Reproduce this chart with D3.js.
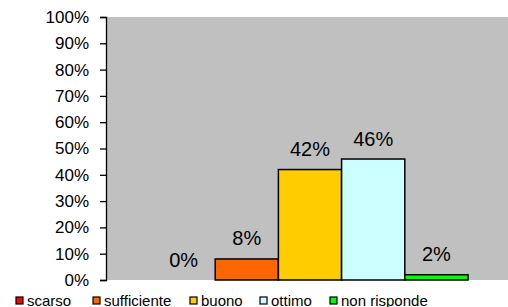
<!DOCTYPE html>
<html>
<head>
<meta charset="utf-8">
<script src="https://cdn.jsdelivr.net/npm/d3@7"></script>
<style>
  body { margin: 0; background: #fff; }
  svg { display: block; font-family: "Liberation Sans", Arial, sans-serif; }
</style>
</head>
<body>
<svg id="chart" width="508" height="307"></svg>
<script>
var series = ["scarso", "sufficiente", "buono", "ottimo", "non risponde"];
var values = [0, 8, 42, 46, 2];
var colors = ["#FF0000", "#FF6600", "#FFCC00", "#CCFFFF", "#00FF00"];
var yTicks = [0, 10, 20, 30, 40, 50, 60, 70, 80, 90, 100];

var svg = d3.select("#chart");
var margin = { top: 17, right: 0, bottom: 27, left: 106 };
var width = 508 - margin.left - margin.right;
var height = 307 - margin.top - margin.bottom;

var g = svg.append("g")
    .attr("transform", "translate(" + margin.left + "," + margin.top + ")");

// plot area
g.append("rect")
    .attr("width", width)
    .attr("height", height)
    .attr("fill", "#C0C0C0");

var y = d3.scaleLinear().domain([0, 100]).range([height, 0]);

// one category, five series side by side
var x = d3.scaleBand()
    .domain(series)
    .range([46, 362])
    .padding(0);

g.selectAll(".bar")
    .data(values)
    .enter().append("rect")
    .attr("class", "bar")
    .attr("x", function(d, i) { return x(series[i]); })
    .attr("y", function(d) { return y(d); })
    .attr("width", x.bandwidth())
    .attr("height", function(d) { return height - y(d); })
    .attr("fill", function(d, i) { return colors[i]; })
    .attr("stroke", function(d) { return d > 0 ? "#000" : "none"; })
    .attr("stroke-width", 1.5);

g.selectAll(".lbl")
    .data(values)
    .enter().append("text")
    .attr("class", "lbl")
    .attr("x", function(d, i) { return x(series[i]) + x.bandwidth() / 2; })
    .attr("y", function(d) { return y(d) - 13.5; })
    .attr("text-anchor", "middle")
    .style("font-size", "20px")
    .style("fill", "#000")
    .text(function(d) { return d + "%"; });

var yAxis = g.append("g")
    .call(d3.axisLeft(y)
        .tickValues(yTicks)
        .tickSize(6)
        .tickPadding(11)
        .tickFormat(function(d) { return d + "%"; }));
yAxis.select(".domain").attr("stroke", "#000").attr("stroke-width", 1.3);
yAxis.selectAll(".tick line").attr("stroke", "#000").attr("stroke-width", 1.3);
yAxis.selectAll(".tick text")
    .style("font-size", "17px")
    .style("font-family", "'Liberation Sans', Arial, sans-serif")
    .attr("fill", "#000");

// legend
var legendX = [16, 93, 190, 260, 330];
var leg = svg.append("g");
var item = leg.selectAll("g")
    .data(series)
    .enter().append("g")
    .attr("transform", function(d, i) { return "translate(" + legendX[i] + ",297)"; });
item.append("rect")
    .attr("width", 7)
    .attr("height", 7)
    .attr("fill", function(d, i) { return colors[i]; })
    .attr("stroke", "#000")
    .attr("stroke-width", 1.2);
item.append("text")
    .attr("x", 11)
    .attr("y", 8.5)
    .style("font-size", "15px")
    .text(function(d) { return d; });
</script>
</body>
</html>
